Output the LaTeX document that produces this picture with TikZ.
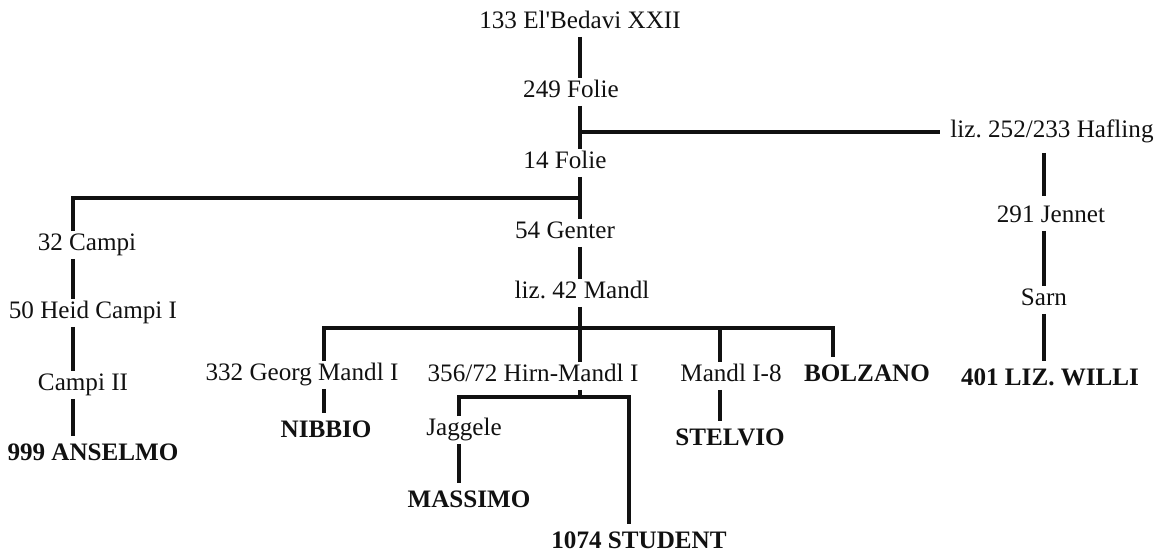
\documentclass[tikz,border=0pt]{standalone}
\usepackage{fontspec}
\setmainfont{Liberation Serif}
\usepackage{tikz}
\usepackage{xcolor}
\usetikzlibrary{positioning,calc}
\definecolor{ink}{HTML}{111111}
\frenchspacing

\begin{document}
\begin{tikzpicture}[x=0.02cm,y=-0.02cm,
    horse/.style={font=\fontsize{14.3}{16}\selectfont\color{ink},inner sep=2pt,text height=9pt,text depth=2.5pt},
    heir/.style={horse,font=\fontsize{14.3}{16}\selectfont\bfseries\color{ink},outer sep=3pt},
    line/.style={ink,line width=1.9pt}]
      \useasboundingbox (0,0) rectangle (1163,553);
      % main sire line
      \node[horse] (elb) at (580,23) {133 El\textquotesingle Bedavi XXII};
      \node[horse] (f249) at (571,92) {249 Folie};
      \node[horse] (f14) at (565,163) {14 Folie};
      \node[horse] (gen) at (565,233) {54 Genter};
      \node[horse] (man) at (582,293) {liz. 42 Mandl};
      % Hafling branch
      \node[horse] (haf) at (1052,132) {liz. 252/233 Hafling};
      \node[horse] (jen) at (1051,217) {291 Jennet};
      \node[horse] (sarn) at (1044,300) {Sarn};
      \node[heir] (willi) at (1050,380) {401 LIZ. WILLI};
      % Campi branch
      \node[horse] (c32) at (87,245) {32 Campi};
      \node[horse] (heid) at (93,313) {50 Heid Campi I};
      \node[horse] (c2) at (83,385) {Campi II};
      \node[heir] (ans) at (93,455) {999 ANSELMO};
      % Mandl sons
      \node[horse] (georg) at (302,375) {332 Georg Mandl I};
      \node[horse] (hirn) at (533,376) {356/72 Hirn-Mandl I};
      \node[horse] (m18) at (731,376) {Mandl I-8};
      \node[heir] (bolz) at (867,376) {BOLZANO};
      \node[heir] (nib) at (326,432) {NIBBIO};
      \node[horse] (jag) at (464,430) {Jaggele};
      \node[heir] (stel) at (730,440) {STELVIO};
      \node[heir] (mass) at (469,502) {MASSIMO};
      \node[heir] (stud) at (639,543) {1074 STUDENT};
      % junctions
      \coordinate (j14) at (581,198);
      \coordinate (campi) at (73,198);
      \coordinate (jg) at (324,328);
      \coordinate (jm8) at (720,328);
      \coordinate (jb) at (833,328);
      \coordinate (jj) at (459,397);
      \coordinate (js) at (629,397);
      % connectors
      \draw[line] (elb.south) -- (elb |- f249.north);
      \draw[line] (elb |- f249.south) -- (elb |- f14.north);
      \draw[line,shorten >=4pt] (elb |- haf) -- (haf.west);
      \draw[line] (elb |- f14.south) -- (elb |- gen.north);
      \draw[line] (campi |- c32.north) -- (campi) -- (j14);
      \draw[line] (elb |- gen.south) -- (elb |- man.north);
      \draw[line] (elb |- man.south) -- (elb |- hirn.north);
      \draw[line] (jg |- georg.north) -- (jg) -- (jb) -- (jb |- bolz.north);
      \draw[line] (jm8) -- (jm8 |- m18.north);
      \draw[line] (jg |- georg.south) -- (jg |- nib.north);
      \draw[line] (elb |- hirn.south) -- (elb |- jj);
      \draw[line] (jj |- jag.north) -- (jj) -- (js) -- (js |- stud.north);
      \draw[line] (jj |- jag.south) -- (jj |- mass.north);
      \draw[line] (jm8 |- m18.south) -- (jm8 |- stel.north);
      \draw[line] (campi |- c32.south) -- (campi |- heid.north);
      \draw[line] (campi |- heid.south) -- (campi |- c2.north);
      \draw[line] (campi |- c2.south) -- (campi |- ans.north);
      \draw[line,shorten <=4pt,shorten >=4pt] (sarn |- haf.south) -- (sarn |- jen.north);
      \draw[line] (sarn |- jen.south) -- (sarn |- sarn.north);
      \draw[line] (sarn.south) -- (sarn |- willi.north);
\end{tikzpicture}
\end{document}
